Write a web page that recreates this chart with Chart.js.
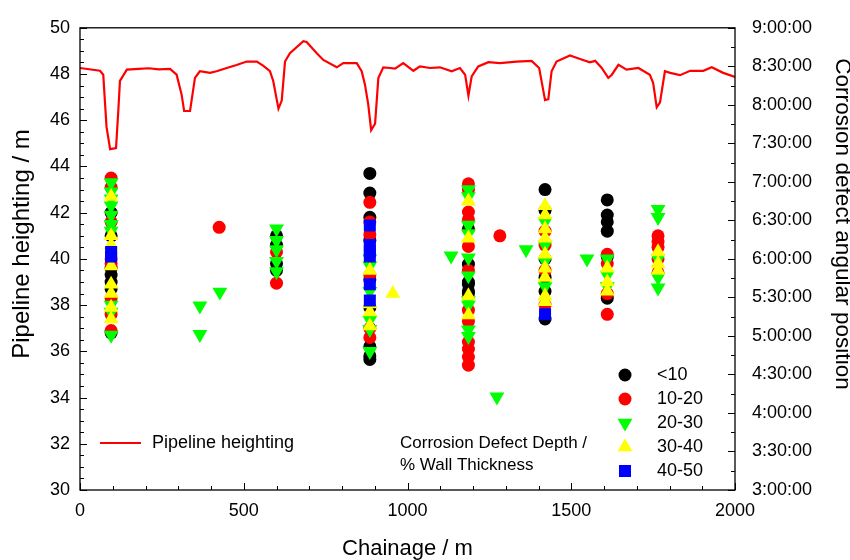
<!DOCTYPE html>
<html><head><meta charset="utf-8">
<script src="https://cdn.jsdelivr.net/npm/chart.js@4/dist/chart.umd.min.js"></script>
<style>html,body{margin:0;padding:0;background:#fff}</style>
</head><body>
<canvas id="c" width="850" height="560"></canvas>
<script>
// ---------- DATA ----------
const xTitle = 'Chainage / m';
const yTitle = 'Pipeline heighting / m';
const y2Title = 'Corrosion defect angular position';
const lineLabel = 'Pipeline heighting';
const depthLegendTitle = ['Corrosion Defect Depth /', '% Wall Thickness'];
const depthCategories = ['<10', '10-20', '20-30', '30-40', '40-50'];

// Pipeline heighting profile (chainage m, height m)
const lineChainage = [0, 61, 71, 81, 92, 110, 117, 122, 143, 180, 210, 240, 275, 295, 310, 318, 336, 351, 366, 397, 417, 448, 478, 509, 540, 560, 580, 590, 606, 616, 626, 641, 682, 692, 723, 743, 784, 804, 845, 860, 870, 880, 889, 901, 911, 926, 947, 962, 987, 1018, 1038, 1069, 1099, 1135, 1160, 1176, 1186, 1196, 1216, 1247, 1282, 1333, 1379, 1402, 1413, 1420, 1430, 1440, 1455, 1496, 1527, 1557, 1573, 1593, 1613, 1624, 1644, 1669, 1705, 1740, 1750, 1761, 1771, 1786, 1802, 1832, 1863, 1903, 1929, 1964, 2000];
const lineHeight = [48.26, 48.14, 47.97, 45.71, 44.75, 44.8, 46.42, 47.7, 48.19, 48.22, 48.25, 48.2, 48.22, 47.97, 47.13, 46.4, 46.4, 47.83, 48.12, 48.05, 48.12, 48.26, 48.39, 48.54, 48.54, 48.35, 48.12, 47.7, 46.5, 46.85, 48.54, 48.9, 49.42, 49.39, 48.9, 48.61, 48.29, 48.47, 48.47, 48.12, 47.55, 46.7, 45.57, 45.85, 47.83, 48.29, 48.26, 48.23, 48.47, 48.14, 48.33, 48.26, 48.29, 48.12, 48.26, 47.97, 47.06, 47.9, 48.33, 48.51, 48.47, 48.54, 48.57, 48.26, 47.41, 46.87, 46.91, 48.12, 48.54, 48.8, 48.65, 48.51, 48.57, 48.26, 47.83, 47.97, 48.4, 48.19, 48.26, 47.97, 47.62, 46.56, 46.77, 48.12, 48.05, 47.95, 48.14, 48.14, 48.29, 48.05, 47.87];

// Corrosion defects: [chainage m, angular position in hours]
const depthLt10 = [[95,5.88],[95,5.79],[95,5.70],[95,5.61],[95,5.04],[95,6.60],[95,6.30],
  [600,6.30],[600,6.18],[600,5.94],[600,5.85],
  [885,7.11],[885,6.855],[885,6.54],[885,6.24],[885,5.73],[885,5.37],[885,4.86],[885,4.74],[885,4.695],
  [1186,5.931],[1186,5.67],[1186,5.58],[1186,5.55],[1186,5.70],[1186,6.39],
  [1420,6.90],[1420,6.63],[1420,6.00],[1420,5.76],[1420,5.22],[1420,5.58],
  [1610,6.765],[1610,6.57],[1610,6.48],[1610,6.36],[1610,5.49],[1610,6.03]];
const depth10to20 = [[95,7.05],[95,6.93],[95,6.00],[95,5.94],[95,5.28],[95,5.07],[95,6.48],[95,5.49],
  [425,6.41],
  [600,6.09],[600,5.685],
  [885,6.735],[885,6.315],[885,6.48],[885,5.79],[885,5.10],[885,4.98],
  [1186,6.975],[1186,6.90],[1186,6.609],[1186,6.51],[1186,6.162],[1186,5.85],[1186,5.334],[1186,5.19],[1186,4.92],[1186,4.83],[1186,4.725],[1186,4.62],
  [1282,6.30],
  [1420,6.36],[1420,5.85],[1420,5.40],[1420,6.18],
  [1610,6.06],[1610,5.55],[1610,5.28],[1610,5.94],
  [1765,6.30],[1765,6.225],[1765,6.00],[1765,5.82],[1765,6.15]];
const depth20to30 = [[95,6.99],[95,6.87],[95,6.69],[95,6.57],[95,6.45],[95,6.36],[95,5.40],[95,5.31],[95,5.01],[95,6.78],
  [366,5.39],[366,5.02],[427,5.57],
  [600,6.39],[600,6.24],[600,6.12],[600,5.97],[600,5.835],
  [885,6.00],[885,5.91],[885,5.58],[885,5.205],[885,5.085],[885,4.80],
  [1133,6.04],
  [1186,6.90],[1186,6.81],[1186,6.438],[1186,6.33],[1186,6.015],[1186,5.781],[1186,5.46],[1186,5.079],[1186,4.995],[1186,5.40],
  [1273,4.21],[1362,6.12],
  [1420,6.48],[1420,6.18],[1420,5.64],[1420,5.97],
  [1548,6.00],
  [1610,6.00],[1610,5.79],[1610,5.64],
  [1765,6.645],[1765,6.54],[1765,5.76],[1765,5.625],[1765,6.00]];
const depth30to40 = [[95,6.81],[95,6.30],[95,6.18],[95,5.91],[95,5.67],[95,5.55],[95,5.37],[95,5.22],
  [885,5.85],[885,5.415],[885,5.31],[885,5.13],
  [955,5.55],
  [1186,6.75],[1186,6.27],[1186,5.271],[1186,5.52],
  [1420,6.69],[1420,6.57],[1420,6.27],[1420,6.06],[1420,5.88],[1420,5.76],[1420,5.52],[1420,5.445],[1420,6.39],
  [1610,5.88],[1610,5.70],[1610,5.58],
  [1765,6.09],[1765,5.85],[1765,5.94]];
const depth40to50 = [[95,6.09],[95,6.03],
  [885,6.435],[885,6.18],[885,6.105],[885,6.03],[885,5.67],[885,5.46],
  [1420,5.28]];

// ---------- STYLE ----------
const FONT = '"Liberation Sans", Arial, Helvetica, sans-serif';
const styles = [
  {color:'#000000', pointStyle:'circle', radius:6.5, rotation:0},
  {color:'#ff0000', pointStyle:'circle', radius:6.5, rotation:0},
  {color:'#00ff00', pointStyle:'triangle', radius:8.6, rotation:180},
  {color:'#ffff00', pointStyle:'triangle', radius:8.6, rotation:0},
  {color:'#0000ff', pointStyle:'rect', radius:8.5, rotation:0}
];
const depthSeries = [depthLt10, depth10to20, depth20to30, depth30to40, depth40to50];

const datasets = [{
  type:'line', label: lineLabel,
  data: lineChainage.map((x,i)=>({x, y:lineHeight[i]})),
  yAxisID:'y', borderColor:'#ff0000', borderWidth:2.2, pointRadius:0, tension:0, order:0
}];
depthSeries.forEach((s,i)=>{
  const st = styles[i];
  datasets.push({
    type:'scatter', label: depthCategories[i],
    data: s.map(p=>({x:p[0], y:p[1]})),
    yAxisID:'y2', backgroundColor: st.color, borderColor: st.color, borderWidth:0,
    pointStyle: st.pointStyle, pointRadius: st.radius, pointRotation: st.rotation,
    pointHoverRadius: st.radius, order: 5 - i + 1
  });
});

function fmtHours(v){
  const h = Math.floor(v + 1e-9);
  const m = Math.round((v - h) * 60);
  return h + ':' + String(m).padStart(2,'0') + ':00';
}

const decorPlugin = {
  id:'decor',
  afterDraw(chart){
    const ctx = chart.ctx, a = chart.chartArea;
    const sx = chart.scales.x, sy = chart.scales.y, sy2 = chart.scales.y2;
    ctx.save();
    ctx.strokeStyle = '#000'; ctx.lineWidth = 1.3;
    ctx.strokeRect(a.left, a.top, a.right - a.left, a.bottom - a.top);
    ctx.lineWidth = 1;
    ctx.beginPath();
    for (let v = 0; v <= 2000; v += 100){
      const px = Math.round(sx.getPixelForValue(v)) + 0.5;
      const len = (v % 500 === 0) ? 7 : 4;
      ctx.moveTo(px, a.bottom); ctx.lineTo(px, a.bottom - len);
    }
    for (let v = 30; v <= 50.001; v += 0.5){
      const py = Math.round(sy.getPixelForValue(v)) + 0.5;
      const len = (Math.abs(v % 2) < 1e-6) ? 7 : 4;
      ctx.moveTo(a.left, py); ctx.lineTo(a.left + len, py);
    }
    for (let v = 3; v <= 9.001; v += 0.25){
      const py = Math.round(sy2.getPixelForValue(v)) + 0.5;
      const len = (Math.abs(v % 0.5) < 1e-6) ? 7 : 4;
      ctx.moveTo(a.right, py); ctx.lineTo(a.right - len, py);
    }
    ctx.stroke();

    ctx.fillStyle = '#000';
    ctx.textAlign = 'center'; ctx.textBaseline = 'middle';
    ctx.font = '22px ' + FONT;
    ctx.fillText(xTitle, (a.left + a.right) / 2, 549);
    ctx.save(); ctx.translate(22, 244); ctx.rotate(-Math.PI/2);
    ctx.font = '24px ' + FONT; ctx.fillText(yTitle, 0, 0); ctx.restore();
    ctx.save(); ctx.translate(842, 224); ctx.rotate(Math.PI/2);
    ctx.font = '22.6px ' + FONT; ctx.fillText(y2Title, 0, 0); ctx.restore();

    ctx.strokeStyle = '#ff0000'; ctx.lineWidth = 2.2;
    ctx.beginPath(); ctx.moveTo(100, 443); ctx.lineTo(141, 443); ctx.stroke();
    ctx.textAlign = 'left';
    ctx.font = '18px ' + FONT;
    ctx.fillText(lineLabel, 152, 443);

    ctx.font = '17px ' + FONT;
    ctx.fillText(depthLegendTitle[0], 400, 443);
    ctx.fillText(depthLegendTitle[1], 400, 465);
    ctx.font = '18px ' + FONT;
    depthCategories.forEach((lab, i)=>{
      const y = 375 + i * 24;
      const st = styles[i];
      ctx.fillStyle = st.color; ctx.strokeStyle = st.color;
      Chart.helpers.drawPoint(ctx, {pointStyle: st.pointStyle, radius: st.radius, rotation: st.rotation, borderWidth: 0}, 625, y);
      ctx.fillStyle = '#000';
      ctx.fillText(lab, 657, y);
    });
    ctx.restore();
  }
};

new Chart(document.getElementById('c'), {
  data: { datasets },
  options: {
    responsive:false, animation:false, devicePixelRatio:1,
    layout:{padding:{top:19, left:0, right:0, bottom:0}},
    plugins:{legend:{display:false}, tooltip:{enabled:false}},
    scales:{
      x:{type:'linear', position:'bottom', min:0, max:2000,
        ticks:{stepSize:500, color:'#000', font:{family:FONT, size:18}, padding:10, maxRotation:0, callback: v => String(v)},
        grid:{display:false, drawTicks:false}, border:{display:false},
        afterFit(s){ s.height = 70; }},
      y:{type:'linear', position:'left', min:30, max:50,
        ticks:{stepSize:2, color:'#000', font:{family:FONT, size:18}, padding:10, callback: v => String(v)},
        grid:{display:false, drawTicks:false}, border:{display:false},
        afterFit(s){ s.width = 80; }},
      y2:{type:'linear', position:'right', min:3, max:9,
        ticks:{stepSize:0.5, color:'#000', font:{family:FONT, size:18}, padding:17, callback: v => fmtHours(v)},
        grid:{display:false, drawTicks:false}, border:{display:false},
        afterFit(s){ s.width = 115; }}
    }
  },
  plugins:[decorPlugin]
});
</script>
</body></html>
